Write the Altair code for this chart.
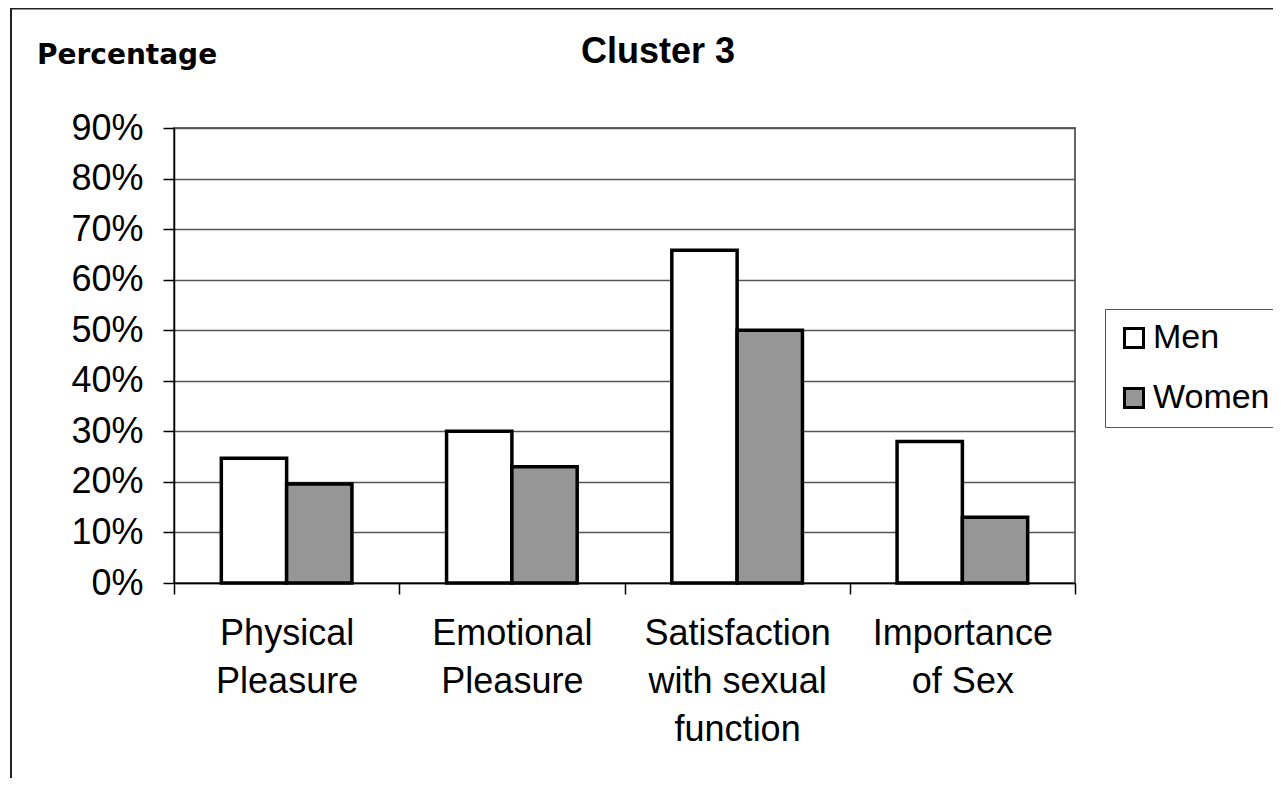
import altair as alt
import pandas as pd

categories = ["Physical\nPleasure", "Emotional\nPleasure",
              "Satisfaction\nwith sexual\nfunction", "Importance\nof Sex"]
men = [0.247, 0.30, 0.658, 0.28]
women = [0.196, 0.23, 0.50, 0.13]
groups = ["Men", "Women"]
group_colors = ["#ffffff", "#969696"]
y_ticks = [0.0, 0.1, 0.2, 0.3, 0.4, 0.5, 0.6, 0.7, 0.8, 0.9]
title_text = "Cluster 3"
y_title = "Percentage"

rows = []
for c, m, w in zip(categories, men, women):
    rows.append({"category": c, "group": "Men", "value": m})
    rows.append({"category": c, "group": "Women", "value": w})
df = pd.DataFrame(rows)

FONT = "Liberation Sans"

bars = alt.Chart(df).mark_bar(stroke="black", strokeWidth=3.5).encode(
    x=alt.X("category:N", sort=categories,
            scale=alt.Scale(paddingInner=0, paddingOuter=0),
            axis=alt.Axis(title=None, labelAngle=0, tickBand="extent",
                          labelExpr="split(datum.label, '\\n')",
                          labelFontSize=36, labelLineHeight=48,
                          labelPadding=22, labelLimit=0, tickSize=11,
                          grid=False, domainColor="black", tickColor="black",
                          domainWidth=1.5, tickWidth=1.5)),
    xOffset=alt.XOffset("group:N", sort=groups,
                        scale=alt.Scale(paddingInner=0, paddingOuter=0.7245)),
    y=alt.Y("value:Q", scale=alt.Scale(domain=[0, 0.9], nice=False),
            axis=alt.Axis(title=None, values=y_ticks, format=".0%",
                          labelFontSize=36, labelPadding=20, tickSize=11,
                          grid=True, gridColor="#555555", gridWidth=1.5,
                          domainColor="black", tickColor="black",
                          domainWidth=1.5, tickWidth=1.5)),
    color=alt.Color("group:N", sort=groups,
                    scale=alt.Scale(domain=groups, range=group_colors),
                    legend=alt.Legend(title=None, orient="none",
                                      legendX=931, legendY=181,
                                      symbolType="square", symbolSize=361,
                                      symbolStrokeColor="black",
                                      symbolStrokeWidth=3,
                                      labelFontSize=34, labelOffset=2,
                                      labelLimit=0,
                                      rowPadding=26, padding=12,
                                      strokeColor="#555555",
                                      labelFont=FONT, labelColor="black")),
)

frame = alt.Chart(pd.DataFrame({"a": [0]})).mark_rect(
    fillOpacity=0, stroke="#222222", strokeWidth=2
).encode(x=alt.value(-163), x2=alt.value(1150),
         y=alt.value(-119.5), y2=alt.value(700))

title = alt.Chart(pd.DataFrame({"t": [title_text]})).mark_text(
    font=FONT, fontSize=36, fontWeight="bold", color="black",
    align="center", baseline="middle"
).encode(text="t:N", x=alt.value(484), y=alt.value(-76))

ylab = alt.Chart(pd.DataFrame({"t": [y_title]})).mark_text(
    font="DejaVu Sans", fontSize=28, fontWeight="bold", color="black",
    align="left", baseline="middle"
).encode(text="t:N", x=alt.value(-137), y=alt.value(-72))

chart = alt.layer(frame, bars, title, ylab).properties(
    width=901, height=455,
    autosize=alt.AutoSizeParams(type="none"),
    padding={"left": 166, "top": 120, "right": 198, "bottom": 195},
    background="white",
).configure_view(
    stroke="#666666", strokeWidth=2
).configure_axis(
    labelFont=FONT, labelColor="black"
)

chart.save("out.html", embed_options={"renderer": "svg", "actions": False})
